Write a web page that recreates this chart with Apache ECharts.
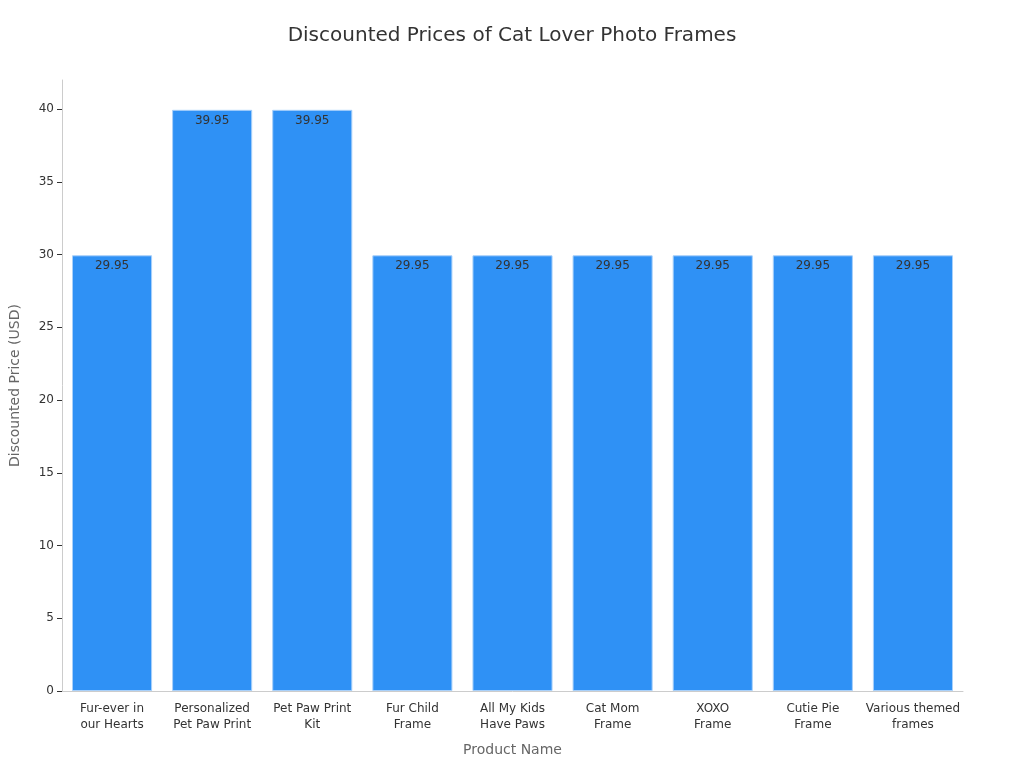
<!DOCTYPE html>
<html>
<head>
<meta charset="utf-8">
<script src="https://cdn.jsdelivr.net/npm/echarts@6/dist/echarts.min.js"></script>
<style>
  html, body { margin: 0; padding: 0; background: #fff; }
  #main { width: 1024px; height: 768px; }
</style>
</head>
<body>
<div id="main"></div>
<script>
// product names (x axis)
var products = ['Fur-ever in\nour Hearts', 'Personalized\nPet Paw Print', 'Pet Paw Print\nKit', 'Fur Child\nFrame',
  'All My Kids\nHave Paws', 'Cat Mom\nFrame', 'XOXO\nFrame', 'Cutie Pie\nFrame', 'Various themed\nframes'];
// discounted prices in USD
var prices = [29.95, 39.95, 39.95, 29.95, 29.95, 29.95, 29.95, 29.95, 29.95];
// y axis ticks
var yTicks = [0, 5, 10, 15, 20, 25, 30, 35, 40];

var myChart = echarts.init(document.getElementById('main'));
var option = {
  textStyle: { fontFamily: 'DejaVu Sans' },
  title: {
    text: 'Discounted Prices of Cat Lover Photo Frames',
    left: 'center',
    top: 21,
    textStyle: { fontSize: 20, fontWeight: 'normal', color: '#333', fontFamily: 'DejaVu Sans' }
  },
  grid: { left: 60, right: 61, top: 80, bottom: 77 },
  xAxis: {
    type: 'category',
    data: products,
    name: 'Product Name',
    nameLocation: 'middle',
    nameGap: 52,
    nameTextStyle: { fontSize: 14, color: '#666' },
    axisTick: { alignWithLabel: true, lineStyle: { color: '#333' } },
    axisLine: { lineStyle: { color: '#ccc' } },
    axisLabel: { interval: 0, fontSize: 12, color: '#333', lineHeight: 16, margin: 10 }
  },
  yAxis: {
    type: 'value',
    min: 0,
    max: 42,
    name: 'Discounted Price (USD)',
    nameLocation: 'middle',
    nameGap: 40,
    nameTextStyle: { fontSize: 14, color: '#666' },
    axisLine: { show: true, lineStyle: { color: '#ccc' } },
    axisTick: { show: true, customValues: yTicks, lineStyle: { color: '#333' } },
    splitLine: { show: false },
    axisLabel: { fontSize: 12, color: '#333', customValues: yTicks }
  },
  series: [{
    name: 'Discounted Price',
    type: 'bar',
    data: prices,
    barCategoryGap: '20%',
    itemStyle: { color: '#2f91f5', borderColor: '#a8d0fa', borderWidth: 1 },
    label: { show: true, position: 'insideTop', distance: 5, color: '#333', fontSize: 12 }
  }]
};
myChart.setOption(option);
</script>
</body>
</html>
